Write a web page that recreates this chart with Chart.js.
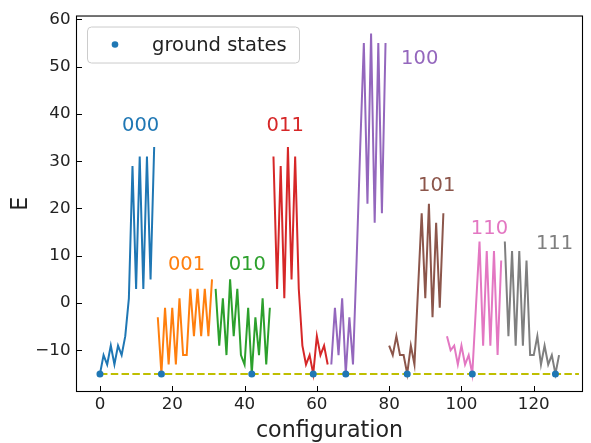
<!DOCTYPE html>
<html>
<head>
<meta charset="utf-8">
<script src="https://cdn.jsdelivr.net/npm/chart.js@4.4.0/dist/chart.umd.min.js"></script>
<style>
  html, body { margin: 0; padding: 0; background: #fff; }
</style>
</head>
<body>
<canvas id="energyChart" width="591" height="443"></canvas>
<script>
// energies of the 128 configurations, 16 per block
const blockNames = ['000', '001', '010', '011', '100', '101', '110', '111'];
const e000 = [-15, -11, -13, -9, -13, -9, -11, -7, 1, 29, 3, 31, 3, 31, 5, 33];
const e001 = [-3, -15, -1, -13, -1, -13, 1, -11, -11, 3, -7, 3, -7, 3, -7, 5];
const e010 = [3, -9, 1, -11, 5, -7, 3, -11, -13, -1, -15, -3, -11, 1, -13, -1];
const e011 = [31, 3, 29, 1, 33, 5, 31, 3, -9, -13, -11, -15, -7, -11, -9, -13];
const e100 = [-13, -1, -11, 1, -15, -3, -13, 9, 33, 55, 21, 57, 17, 55, 19, 55];
const e101 = [-9, -11, -7, -11, -11, -15, -9, -13, 3, 19, 1, 21, -3, 17, -1, 19];
const e110 = [-7, -10, -9, -13, -9, -13, -11, -15, -1, 13, -9, 11, -9, 11, -11, 9];
const e111 = [13, -7, 11, -9, 11, -9, 9, -11, -11, -7, -13, -9, -13, -11, -15, -11];

const groundX = [0, 17, 42, 59, 68, 85, 103, 126];
const groundE = [-15, -15, -15, -15, -15, -15, -15, -15];
const groundLineX = [0, 132.5];
const groundLineE = [-15, -15];

const xTicks = [0, 20, 40, 60, 80, 100, 120];
const yTicks = [-10, 0, 10, 20, 30, 40, 50, 60];

const blocks = [e000, e001, e010, e011, e100, e101, e110, e111];
const colors = ['#1f77b4', '#ff7f0e', '#2ca02c', '#d62728', '#9467bd', '#8c564b', '#e377c2', '#7f7f7f'];
const FONT = "'DejaVu Sans', sans-serif";
const TEXT = '#222';

const datasets = [];
datasets.push({
    label: 'ground states',
    type: 'scatter',
    data: groundX.map((x, i) => ({ x: x, y: groundE[i] })),
    pointRadius: 3.5,
    pointBackgroundColor: '#1f77b4',
    pointBorderWidth: 0,
    order: 0
});
datasets.push({
    label: 'ground line',
    data: groundLineX.map((x, i) => ({ x: x, y: groundLineE[i] })),
    borderColor: '#bfbf00',
    borderWidth: 2,
    borderDash: [7.5, 3.3],
    pointRadius: 0,
    order: 1
});
blocks.forEach(function(vals, b) {
    datasets.push({
        label: blockNames[b],
        data: vals.map((v, i) => ({ x: b * 16 + i, y: v })),
        borderColor: colors[b],
        borderWidth: 2,
        pointRadius: 0,
        tension: 0,
        order: 2
    });
});

// block names, anchored at left/baseline in data units
const labelAt = {
    '000': [6.1, 36.4], '001': [18.8, 7.0], '010': [35.6, 7.0], '011': [46.1, 36.4],
    '100': [83.3, 50.5], '101': [88.0, 23.6], '110': [102.6, 14.5], '111': [120.6, 11.4]
};

function minusSign(v) {
    return String(v).replace('-', '\u2212');
}

const decorations = {
    id: 'decorations',
    afterDraw(chart) {
        const ctx = chart.ctx;
        const a = chart.chartArea;
        const xs = chart.scales.x, ys = chart.scales.y;
        ctx.save();
        // frame
        ctx.strokeStyle = '#000';
        ctx.lineWidth = 1.1;
        ctx.strokeRect(a.left - 0.5, a.top - 0.5, a.right - a.left + 1, a.bottom - a.top + 1);
        // inward ticks
        ctx.lineWidth = 1;
        ctx.beginPath();
        xTicks.forEach(function(v) {
            const px = Math.round(xs.getPixelForValue(v)) + 0.5;
            ctx.moveTo(px, a.bottom);
            ctx.lineTo(px, a.bottom - 5);
        });
        yTicks.forEach(function(v) {
            const py = Math.round(ys.getPixelForValue(v)) + 0.5;
            ctx.moveTo(a.left, py);
            ctx.lineTo(a.left + 5, py);
        });
        ctx.stroke();
        // block labels
        ctx.font = '19.5px ' + FONT;
        ctx.textAlign = 'left';
        ctx.textBaseline = 'alphabetic';
        blockNames.forEach(function(name, b) {
            const p = labelAt[name];
            ctx.fillStyle = colors[b];
            ctx.fillText(name, xs.getPixelForValue(p[0]), ys.getPixelForValue(p[1]));
        });
        // legend
        const lx = a.left + 10, ly = a.top + 10, lw = 212, lh = 36;
        ctx.beginPath();
        ctx.roundRect(lx + 0.5, ly + 0.5, lw, lh, 4);
        ctx.fillStyle = 'rgba(255,255,255,0.8)';
        ctx.fill();
        ctx.strokeStyle = '#cccccc';
        ctx.lineWidth = 1;
        ctx.stroke();
        ctx.beginPath();
        ctx.arc(lx + 28, ly + 18, 3.3, 0, Math.PI * 2);
        ctx.fillStyle = '#1f77b4';
        ctx.fill();
        ctx.fillStyle = TEXT;
        ctx.font = '19.5px ' + FONT;
        ctx.fillText('ground states', lx + 65, ly + 24);
        ctx.restore();
    }
};

new Chart(document.getElementById('energyChart'), {
    type: 'line',
    data: { datasets: datasets },
    options: {
        responsive: false,
        animation: false,
        layout: { padding: { top: 7, right: 9, left: 0, bottom: 0 } },
        plugins: {
            legend: { display: false },
            tooltip: { enabled: false }
        },
        scales: {
            x: {
                type: 'linear',
                min: -6.35,
                max: 133.35,
                afterBuildTicks: function(scale) { scale.ticks = xTicks.map(v => ({ value: v })); },
                afterFit: function(scale) { scale.height = 52; },
                grid: { display: false, drawTicks: false },
                border: { display: false },
                ticks: { padding: 3.5, color: TEXT, font: { family: FONT, size: 16.7 }, maxRotation: 0, callback: minusSign },
                title: { display: true, text: 'configuration', color: TEXT, font: { family: FONT, size: 22.2 }, padding: { top: 0, bottom: -2 } }
            },
            y: {
                type: 'linear',
                min: -18.6,
                max: 60.6,
                afterBuildTicks: function(scale) { scale.ticks = yTicks.map(v => ({ value: v })); },
                afterFit: function(scale) { scale.width = 77; },
                grid: { display: false, drawTicks: false },
                border: { display: false },
                ticks: { padding: 6.5, color: TEXT, font: { family: FONT, size: 16.7 }, callback: minusSign },
                title: { display: true, text: 'E', color: TEXT, font: { family: FONT, size: 22.2 }, padding: { top: 8, bottom: 0 } }
            }
        }
    },
    plugins: [decorations]
});
</script>
</body>
</html>
